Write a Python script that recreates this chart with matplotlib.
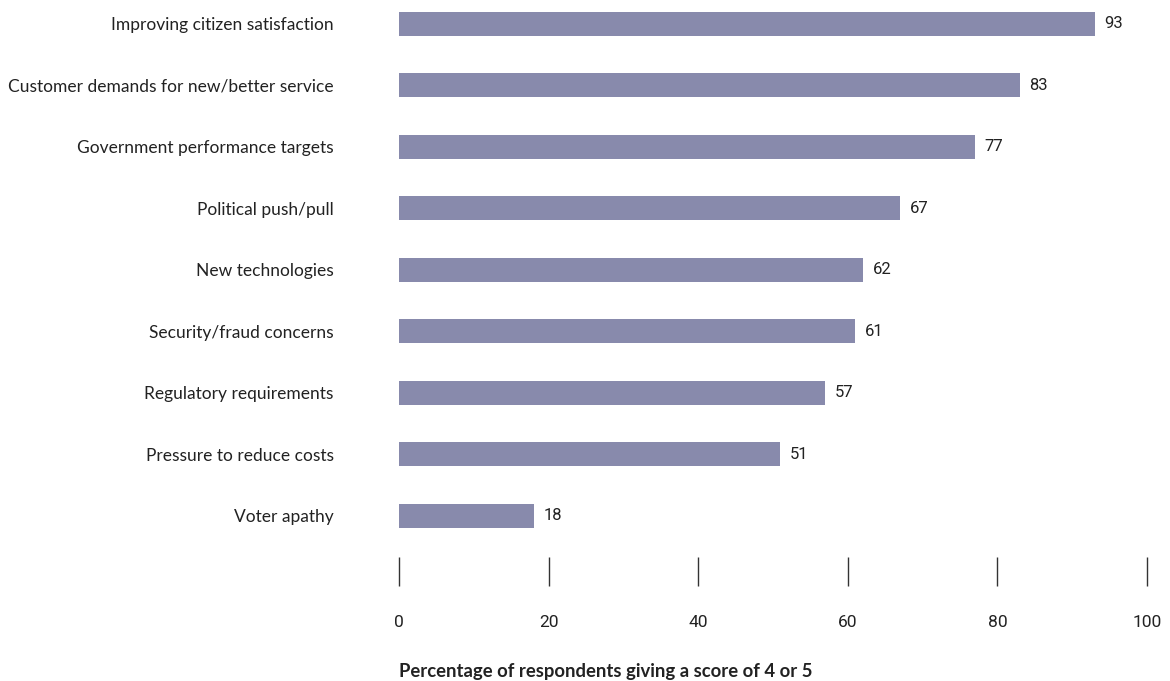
import matplotlib.pyplot as plt

categories = ['Improving citizen satisfaction',
              'Customer demands for new/better service',
              'Government performance targets',
              'Political push/pull',
              'New technologies',
              'Security/fraud concerns',
              'Regulatory requirements',
              'Pressure to reduce costs',
              'Voter apathy']
values = [93, 83, 77, 67, 62, 61, 57, 51, 18]
xticks = [0, 20, 40, 60, 80, 100]

fig = plt.figure(figsize=(11.7, 6.81), dpi=100)
ax = fig.add_axes([399 / 1170, 1 - 586 / 681, 748 / 1170, 586 / 681])

ypos = list(range(len(categories)))
ax.barh(ypos, values, height=0.39, color='#888aac')
for y, v in zip(ypos, values):
    ax.text(v + 1.3, y, str(v), va='center', ha='left', fontsize=12,
            family='Roboto', color='#222222')

ax.set_xlim(0, 100)
ax.set_ylim(9.14, -0.39)
ax.set_yticks(ypos)
ax.set_yticklabels(categories, fontsize=12.5, family='Lato', color='#222222')
ax.tick_params(axis='y', length=0, pad=47)
ax.set_xticks(xticks)
ax.set_xticklabels([str(t) for t in xticks], family='Roboto', fontsize=12.5,
                   color='#222222')
ax.tick_params(axis='x', direction='in', length=21, width=1, color='#333333',
               pad=21)
for s in ax.spines.values():
    s.set_visible(False)

fig.text(399 / 1170, 1 - 672 / 681, 'Percentage of respondents giving a score of 4 or 5',
         ha='left', va='center', fontsize=13.3, fontweight='bold', family='Lato',
         color='#222222')

fig.savefig('out.png', dpi=100)
